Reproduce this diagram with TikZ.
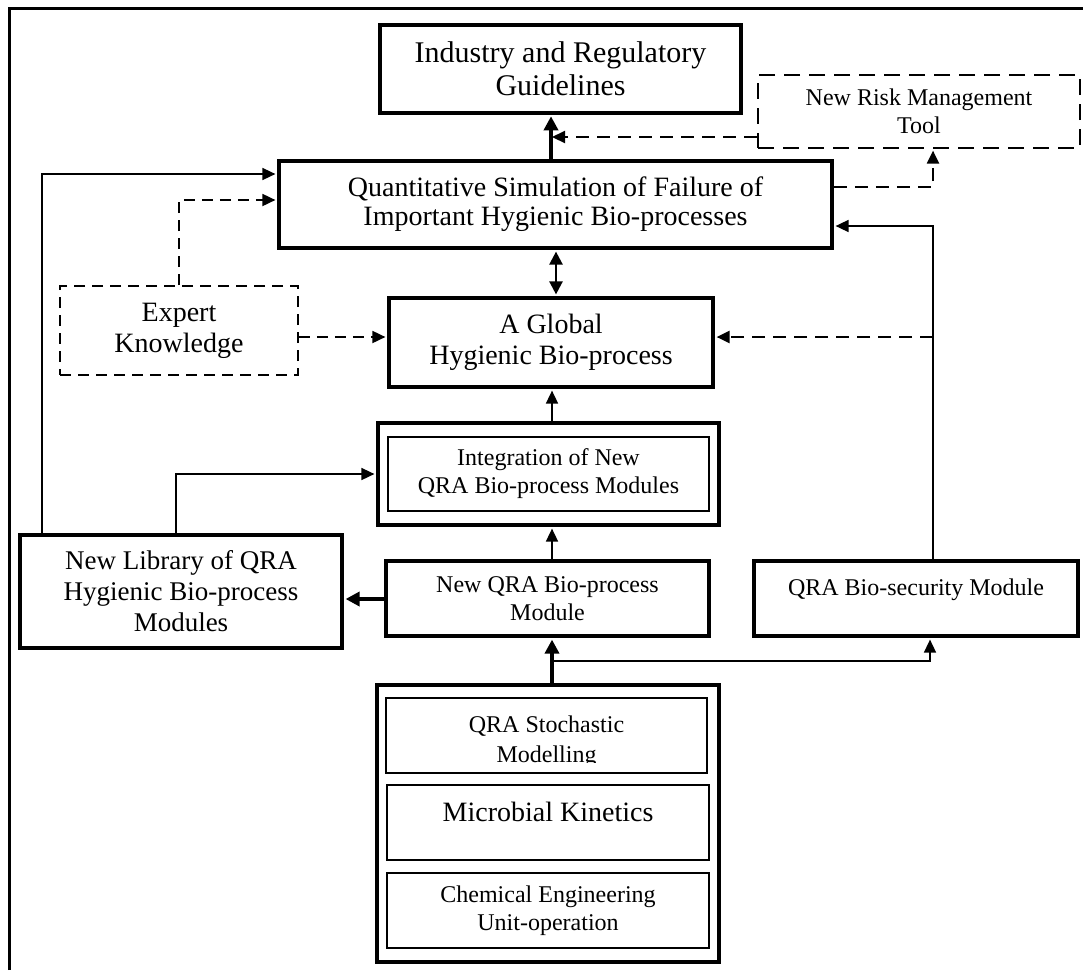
\documentclass[tikz,border=0pt]{standalone}
\usepackage{fontspec}
\setmainfont{Liberation Serif}
\usetikzlibrary{arrows.meta}
\begin{document}
\begin{tikzpicture}[x=1pt,y=-1pt,
  thickbox/.style={draw, line width=3.6pt, inner sep=0pt, align=center},
  midbox/.style={draw, line width=2pt, inner sep=0pt, align=center},
  dashbox/.style={draw, line width=1.8pt, dash pattern=on 11pt off 7pt, inner sep=0pt, align=center},
  bigdashbox/.style={draw, line width=2.6pt, dash pattern=on 16pt off 9pt, inner sep=0pt, align=center},
  conn/.style={line width=1.6pt, -{Triangle[length=13pt,width=12pt]}},
  thickconn/.style={line width=4pt, -{Triangle[length=14pt,width=14pt]}},
  dashconn/.style={conn, line width=2.2pt, dash pattern=on 13pt off 8pt},
  dblconn/.style={line width=2.4pt, {Triangle[length=13pt,width=13pt]}-{Triangle[length=13pt,width=13pt]}},
  fA/.style={font=\fontsize{30}{33}\selectfont},
  fB/.style={font=\fontsize{28}{29}\selectfont},
  fC/.style={font=\fontsize{28}{31}\selectfont},
  fD/.style={font=\fontsize{24}{28}\selectfont},
  fE/.style={font=\fontsize{27}{31}\selectfont},
  fF/.style={font=\fontsize{24}{30}\selectfont}
]
\useasboundingbox (0,0) rectangle (1083,970);
% outer frame (cut off)
\draw[line width=3pt] (9,970) -- (9,8) -- (1083,8);

% nodes
\node[thickbox, fA, minimum width=361pt, minimum height=88pt] (ind) at (560.5,69) {Industry and Regulatory\\Guidelines};
\node[bigdashbox, fD, minimum width=322pt, minimum height=73pt] (nrm) at (919,111.5) {New Risk Management\\Tool};
\node[thickbox, fB, minimum width=553pt, minimum height=87pt] (quant) at (555.5,204.5) {Quantitative Simulation of Failure of\\Important Hygienic Bio-processes};
\node[dashbox, fC, minimum width=238pt, minimum height=89pt] (expert) at (179,330.5) {Expert\\Knowledge};
\node[thickbox, fC, minimum width=324pt, minimum height=89pt] (glob) at (551,342.5) {A Global\\Hygienic Bio-process};
\node[thickbox, minimum width=341pt, minimum height=102pt] (integ) at (548.5,474) {};
\node[midbox, fD, minimum width=321pt, minimum height=74pt] (integin) at (548.5,474) {Integration of New\\QRA Bio-process Modules};
\node[thickbox, fE, minimum width=322pt, minimum height=113pt] (lib) at (181,591.5) {New Library of QRA\\Hygienic Bio-process\\Modules};
\node[thickbox, fD, minimum width=323pt, minimum height=75pt] (newqra) at (547.5,598.5) {New QRA Bio-process\\Module};
\node[thickbox, font=\fontsize{24}{28}\selectfont, text height=16.5pt, text depth=23pt, minimum width=324pt, minimum height=75pt] (bio) at (916,598.5) {QRA Bio-security Module};
\node[thickbox, minimum width=342pt, minimum height=277pt] (cont) at (548,823.5) {};
\node[midbox, minimum width=321pt, minimum height=75pt] (stoch) at (546.5,735.5) {};
\begin{scope}
  \clip (388,700) rectangle (705,762.5);
  \node[fF, align=center, inner sep=0pt] (stochtext) at (546.5,741.5) {QRA Stochastic\\Modelling};
\end{scope}
\node[midbox, font=\fontsize{28}{31}\selectfont, text height=19pt, text depth=21pt, minimum width=322pt, minimum height=75pt] (micro) at (548,822.5) {Microbial Kinetics};
\node[midbox, fD, minimum width=322pt, minimum height=75pt] (chem) at (548,910.5) {Chemical Engineering\\Unit-operation};

% helper coordinates
\coordinate (xa) at (551,0);
\coordinate (xd) at (556,0);
\coordinate (xc) at (552,0);
\coordinate (xr) at (933,0);
\coordinate (xb) at (930,0);
\coordinate (xl) at (42,0);
\coordinate (xlib) at (176,0);
\coordinate (ya) at (0,137);
\coordinate (yb) at (0,187);
\coordinate (yc) at (0,226);
\coordinate (yd) at (0,337);
\coordinate (ye) at (0,174);
\coordinate (yf) at (0,200);
\coordinate (yg) at (0,599);
\coordinate (yh) at (0,661);

% connectors
\draw[thickconn, shorten >=1.5pt] (xa |- quant.north) -- (xa |- ind.south);
\draw[dashconn, shorten >=1pt] (nrm.west |- ya) -- (xa |- ya);
\draw[dashconn, shorten >=1.3pt] (quant.east |- yb) -| (xr |- nrm.south);
\draw[conn, shorten >=1.8pt] (xr |- bio.north) -- (xr |- yc) -- (quant.east |- yc);
\draw[dashconn, shorten >=1.8pt] (xr |- yd) -- (glob.east |- yd);
\draw[conn, shorten >=1.8pt] (xl |- lib.north) -- (xl |- ye) -- (quant.west |- ye);
\draw[dashconn, line width=1.8pt, dash pattern=on 11pt off 7pt, shorten >=1.8pt] (expert.north) -- (expert.north |- yf) -- (quant.west |- yf);
\draw[dashconn, line width=1.8pt, dash pattern=on 11pt off 7pt, shorten >=1.8pt] (expert.east |- yd) -- (glob.west |- yd);
\draw[dblconn, shorten >=1.8pt, shorten <=1.8pt] (xd |- quant.south) -- (xd |- glob.north);
\draw[conn, shorten >=1.8pt] (xc |- integ.north) -- (xc |- glob.south);
\draw[conn, shorten >=1.8pt] (xc |- newqra.north) -- (xc |- integ.south);
\draw[thickconn, shorten >=1.8pt] (newqra.west |- yg) -- (lib.east |- yg);
\draw[thickconn, shorten >=1.8pt] (xc |- cont.north) -- (xc |- newqra.south);
\draw[conn, shorten >=1.8pt] (xc |- yh) -| (xb |- bio.south);
\draw[conn, shorten >=1.8pt] (xlib |- lib.north) |- (integ.west);
\end{tikzpicture}
\end{document}
